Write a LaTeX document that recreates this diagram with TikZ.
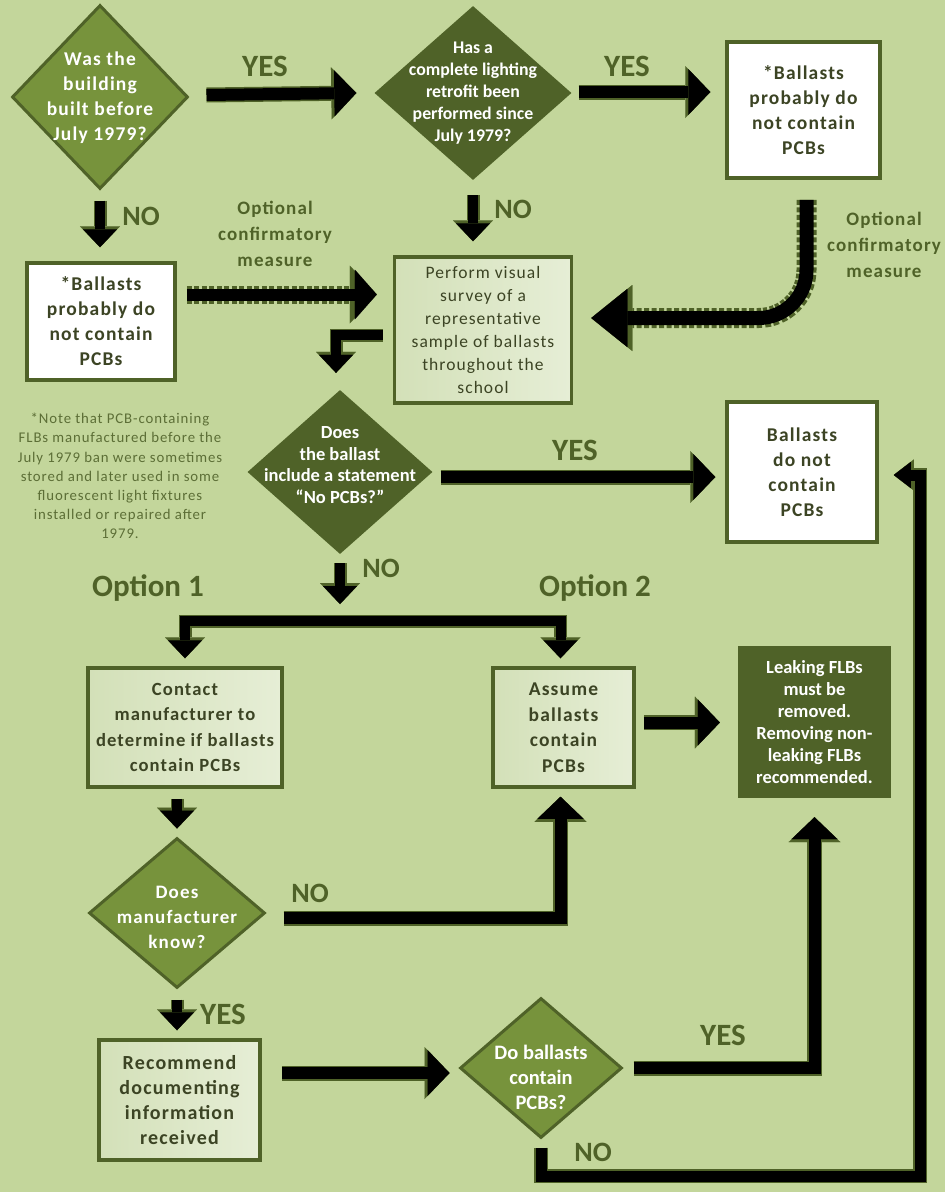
\documentclass[tikz,border=0pt]{standalone}
\usepackage{fontspec}
\setmainfont{Carlito}
\newfontfamily\lsfont{Carlito}[LetterSpace=6]
\usetikzlibrary{shapes.geometric,arrows.meta,calc}
\definecolor{bg}{HTML}{C3D69B}
\definecolor{mid}{HTML}{77933C}
\definecolor{dkg}{HTML}{4F6228}
\definecolor{txt}{HTML}{3C4424}
\definecolor{notec}{HTML}{5C6E36}
\definecolor{lg1}{HTML}{D3E0B8}
\definecolor{lg2}{HTML}{E6EED6}
\tikzset{
  diamA/.style={diamond, draw=dkg, line width=3pt, fill=mid, inner sep=0pt},
  diamB/.style={diamond, fill=dkg, inner sep=0pt},
  dtxt/.style={text=white, align=center, inner sep=0pt},
  wbox/.style={rectangle, draw=dkg, line width=3.5pt, fill=white, align=center, text=txt, inner sep=0pt,
    font=\lsfont\bfseries\fontsize{19.5}{25}\selectfont},
  lbox/.style={rectangle, draw=dkg, line width=3.5pt, left color=lg1, right color=lg2, align=center, text=txt, inner sep=0pt},
  dbox/.style={rectangle, fill=dkg, text=white, align=center, inner sep=0pt},
  lblbig/.style={text=dkg, font=\bfseries\fontsize{31}{31}\selectfont, inner sep=0pt},
  lblno/.style={text=dkg, font=\bfseries\fontsize{28}{28}\selectfont, inner sep=0pt},
  lblopt/.style={text=dkg, align=center, font=\lsfont\bfseries\fontsize{19}{26}\selectfont, inner sep=0pt},
  conn/.style={draw=black, line width=12pt, line join=miter,
    -{Triangle[width=46pt,length=22pt,line width=0.01pt]},
    preaction={draw=dkg, line width=15pt, -{Triangle[width=52pt,length=25pt,line width=0.01pt]}}},
  conns/.style={draw=black, line width=10pt, line join=miter,
    -{Triangle[width=34pt,length=18pt,line width=0.01pt]},
    preaction={draw=dkg, line width=13pt, -{Triangle[width=40pt,length=21pt,line width=0.01pt]}}},
  connthin/.style={draw=black, line width=11pt, line join=miter,
    -{Triangle[width=26pt,length=17pt,line width=0.01pt]},
    preaction={draw=dkg, line width=14pt, -{Triangle[width=31pt,length=20pt,line width=0.01pt]}}},
  dconn/.style={draw=black, line width=12pt, line join=miter,
    -{Triangle[width=50pt,length=22pt,line width=0.01pt]},
    preaction={draw=dkg, line width=18pt, dash pattern=on 5pt off 2.5pt, -{Triangle[width=58pt,length=27pt,line width=0.01pt]}}},
  dconnbig/.style={draw=black, line width=14pt, line join=miter,
    -{Triangle[width=58pt,length=36pt,line width=0.01pt]},
    preaction={draw=dkg, line width=20pt, dash pattern=on 5pt off 2.5pt, -{Triangle[width=66pt,length=41pt,line width=0.01pt]}}},
}
\begin{document}
\begin{tikzpicture}[x=1pt,y=-1pt]
\fill[bg] (0,0) rectangle (945,1192);
\useasboundingbox (0,0) rectangle (945,1192);

% diamonds
\node[diamA, minimum width=176pt, minimum height=184pt] (d1) at (100,97) {};
\node[dtxt, font=\lsfont\bfseries\fontsize{19.5}{25}\selectfont] (d1t) at (100,98) {Was the\\building\\built before\\July 1979?};
\node[diamB, minimum width=197pt, minimum height=174pt] (d2) at (473,93) {};
\node[dtxt, font=\bfseries\fontsize{17.8}{22}\selectfont] (d2t) at (473,93) {Has a\\complete lighting\\retrofit been\\performed since\\July 1979?};
\node[diamB, minimum width=185pt, minimum height=164pt] (d3) at (340,472) {};
\node[dtxt, font=\bfseries\fontsize{18.5}{21.7}\selectfont] (d3t) at (340,465) {Does\\the ballast\\include a statement\\``No PCBs?''};
\node[diamA, minimum width=176pt, minimum height=150pt] (d4) at (177,913) {};
\node[dtxt, font=\lsfont\bfseries\fontsize{19}{25}\selectfont] (d4t) at (177,917) {Does\\manufacturer\\know?};
\node[diamA, minimum width=162pt, minimum height=140pt] (d5) at (541,1068) {};
\node[dtxt, font=\bfseries\fontsize{20.5}{25}\selectfont] (d5t) at (541,1077) {Do ballasts\\contain\\PCBs?};

% boxes
\node[wbox, minimum width=153pt, minimum height=136pt] (b3) at (803.5,110) {*Ballasts\\probably do\\not contain\\PCBs};
\node[wbox, minimum width=148pt, minimum height=117pt] (b4) at (101,321.5) {*Ballasts\\probably do\\not contain\\PCBs};
\node[lbox, minimum width=177pt, minimum height=146pt, font=\lsfont\fontsize{17.5}{23}\selectfont] (perf) at (483,330) {Perform visual\\survey of a\\representative\\sample of ballasts\\throughout the\\school};
\node[wbox, minimum width=150pt, minimum height=140pt] (b5) at (802,472) {Ballasts\\do not\\contain\\PCBs};
\node[lbox, minimum width=194pt, minimum height=119pt, font=\lsfont\bfseries\fontsize{18.6}{25.5}\selectfont] (contact) at (185,727.5) {Contact\\manufacturer to\\determine if ballasts\\contain PCBs};
\node[lbox, minimum width=141pt, minimum height=119pt, font=\lsfont\bfseries\fontsize{19.5}{25.5}\selectfont] (assume) at (563.5,727.5) {Assume\\ballasts\\contain\\PCBs};
\node[dbox, minimum width=153pt, minimum height=152pt, font=\bfseries\fontsize{18.5}{22}\selectfont] (leak) at (814.5,722) {Leaking FLBs\\must be\\removed.\\Removing non-\\leaking FLBs\\recommended.};
\node[lbox, minimum width=161pt, minimum height=120pt, font=\lsfont\bfseries\fontsize{20}{25.3}\selectfont] (rec) at (179.5,1100) {Recommend\\documenting\\information\\received};

% note
\node[text=notec, align=center, inner sep=0pt, font=\lsfont\fontsize{14.8}{19.2}\selectfont] (note) at (120,476) {*Note that PCB-containing\\FLBs manufactured before the\\July 1979 ban were sometimes\\stored and later used in some\\fluorescent light fixtures\\installed or repaired after\\1979.};

% labels
\node[lblbig] (yes1) at (265,66) {YES};
\node[lblbig] (yes2) at (627,66) {YES};
\node[lblbig] (yes3) at (575,450) {YES};
\node[lblbig] (yes4) at (223,1014) {YES};
\node[lblbig] (yes5) at (723,1035) {YES};
\node[lblno] (no1) at (141,216) {NO};
\node[lblno] (no2) at (513,209) {NO};
\node[lblno] (no3) at (381,568) {NO};
\node[lblno] (no4) at (310,893) {NO};
\node[lblno] (no5) at (593,1152) {NO};
\node[lblbig] (opt1) at (148,588) {Option 1};
\node[lblbig] (opt2) at (595,588) {Option 2};
\node[lblopt] (conf1) at (275,234) {Optional\\confirmatory\\measure};
\node[lblopt] (conf2) at (884,245) {Optional\\confirmatory\\measure};

% connectors
\coordinate (split) at (345,621);
\coordinate (rc) at (920,1176);
\draw[conn] ($(d1.east)+(17,-2)$) -- ($(d2.west)+(-18,0)$);
\draw[conn] ($(d2.east)+(7,-1)$) -- ($(d2.east -| b3.west)+(-15,-1)$);
\draw[conns] ($(d1.south)+(0,10)$) -- ($(d1.south |- b4.north)+(0,-14)$);
\draw[conns] ($(d2.south)+(0,15)$) -- ($(d2.south |- perf.north)+(0,-14)$);
\draw[dconn] ($(b4.east)+(10,-27)$) -- ($(b4.east -| perf.west)+(-16,-27)$);
\draw[dconnbig, rounded corners=48pt] ($(b3.south)+(3,20)$) |- ($(perf.east)+(18,-12)$);
\draw[conns] ($(perf.west)+(-10,5)$) -| ($(d3.north)+(-4,-17)$);
\draw[conn] ($(d3.east)+(8,5)$) -- ($(d3.east -| b5.west)+(-10,5)$);
\draw[conns] ($(d3.south)+(0,9)$) -- ($(d3.south |- split)+(0,-17)$);
\draw[conns] (split) -| ($(contact.north)+(0,-8)$);
\draw[conns] (split) -| ($(assume.north)+(-3,-8)$);
\draw[conns] ($(contact.south -| d4.north)+(0,10)$) -- ($(d4.north)+(0,-8)$);
\draw[conn] ($(d4.east)+(17,5)$) -| ($(assume.south)+(-3,8)$);
\draw[conn] ($(assume.east)+(8,-5)$) -- ($(assume.east -| leak.west)+(-18,-5)$);
\draw[conns] ($(d4.south)+(0,10)$) -- ($(d4.south |- rec.north)+(0,-8)$);
\draw[conn] ($(rec.east |- d5.west)+(20,5)$) -- ($(d5.west)+(-9,5)$);
\draw[conn] ($(d5.east)+(10,0)$) -| ($(leak.south)+(0,19)$);
\draw[connthin] ($(d5.south)+(0,8)$) |- (rc) |- ($(b5.east)+(15,3)$);
\end{tikzpicture}
\end{document}
